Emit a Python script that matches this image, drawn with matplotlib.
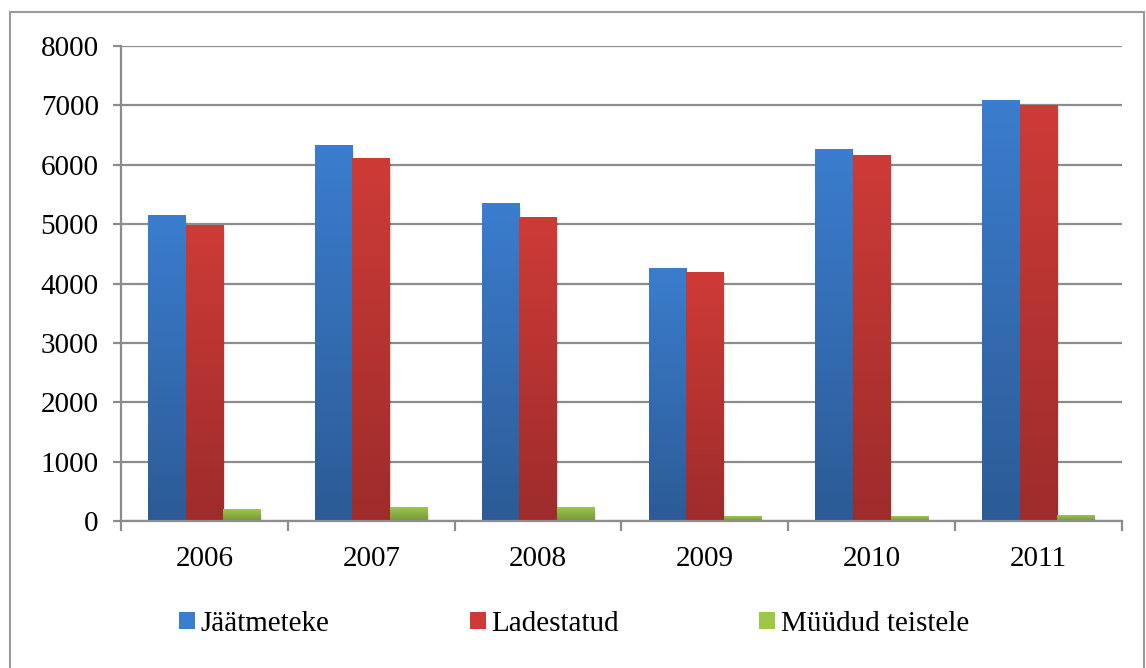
import numpy as np
import matplotlib
matplotlib.use("Agg")
import matplotlib.pyplot as plt
from matplotlib.colors import LinearSegmentedColormap
from matplotlib.patches import Rectangle

years = ["2006", "2007", "2008", "2009", "2010", "2011"]
jaatmeteke = [5150, 6330, 5350, 4260, 6250, 7090]
ladestatud = [4970, 6100, 5120, 4180, 6160, 7000]
muudud = [195, 230, 230, 80, 80, 95]

series = [
    ("Jäätmeteke", jaatmeteke, "#3B7DCE", "#2C5B96"),
    ("Ladestatud", ladestatud, "#CE3B37", "#9D2C2B"),
    ("Müüdud teistele", muudud, "#9DC74B", "#76963A"),
]

plt.rcParams["font.family"] = ["Liberation Serif", "DejaVu Serif"]
plt.rcParams["font.size"] = 21

fig = plt.figure(figsize=(11.46, 6.68), dpi=100)
ax = fig.add_axes([121 / 1146, 1 - 521 / 668, (1122 - 121) / 1146, (521 - 46) / 668])

x = np.arange(len(years))
width = 0.225
grad = np.linspace(0, 1, 256).reshape(-1, 1)

for i, (name, vals, top, bottom) in enumerate(series):
    offs = (i - 1) * width
    cmap = LinearSegmentedColormap.from_list(name, [bottom, top])
    bars = ax.bar(x + offs, vals, width, color=top, edgecolor="none", zorder=3, label=name)
    for b in bars:
        x0, w, h = b.get_x(), b.get_width(), b.get_height()
        # soft drop shadow
        for k, a in enumerate([0.06, 0.05, 0.04]):
            ax.add_patch(Rectangle((x0 + 0.004 * (k + 1), -30 * (k + 1)), w, h,
                                   facecolor="#000000", alpha=a, edgecolor="none", zorder=2.5))
        ax.imshow(grad, extent=[x0, x0 + w, 0, h], origin="lower", cmap=cmap,
                  aspect="auto", zorder=3.5, interpolation="bilinear")

ax.set_xlim(-0.5, len(years) - 0.5)
ax.set_ylim(0, 8000)
ax.set_yticks(np.arange(0, 8001, 1000))
ax.set_xticks(x)
ax.set_xticklabels(years)
ax.set_xticks(np.arange(-0.5, len(years), 1.0), minor=True)

grid_col = "#8C8C8C"
ax.yaxis.grid(True, color=grid_col, linewidth=1.6, zorder=1)
ax.set_axisbelow(True)
for s in ["top", "right"]:
    ax.spines[s].set_visible(False)
for s in ["left", "bottom"]:
    ax.spines[s].set_color(grid_col)
    ax.spines[s].set_linewidth(1.6)
    ax.spines[s].set_zorder(4)

ax.tick_params(axis="y", length=6, width=1.6, color=grid_col, pad=10, labelsize=21)
ax.tick_params(axis="x", which="major", length=0, pad=18, labelsize=21)
ax.tick_params(axis="x", which="minor", length=7, width=1.6, color=grid_col)

# legend with square markers
leg_handles = [Rectangle((0, 0), 1, 1, facecolor=s[2], edgecolor="none") for s in series]
fig.legend(leg_handles, [s[0] for s in series], loc="center left",
           bbox_to_anchor=(179 / 1146, 1 - 624 / 668), ncol=3, frameon=False,
           handlelength=0.55, handleheight=0.55, handletextpad=0.2,
           columnspacing=4.8, borderpad=0, borderaxespad=0, fontsize=21)

# outer chart frame
fig.patches.append(Rectangle((10 / 1146, -0.05), 1134 / 1146, 1.05 - 12 / 668,
                             transform=fig.transFigure, fill=False,
                             edgecolor="#9A9A9A", linewidth=1.5))

fig.savefig("out.png", dpi=100)
